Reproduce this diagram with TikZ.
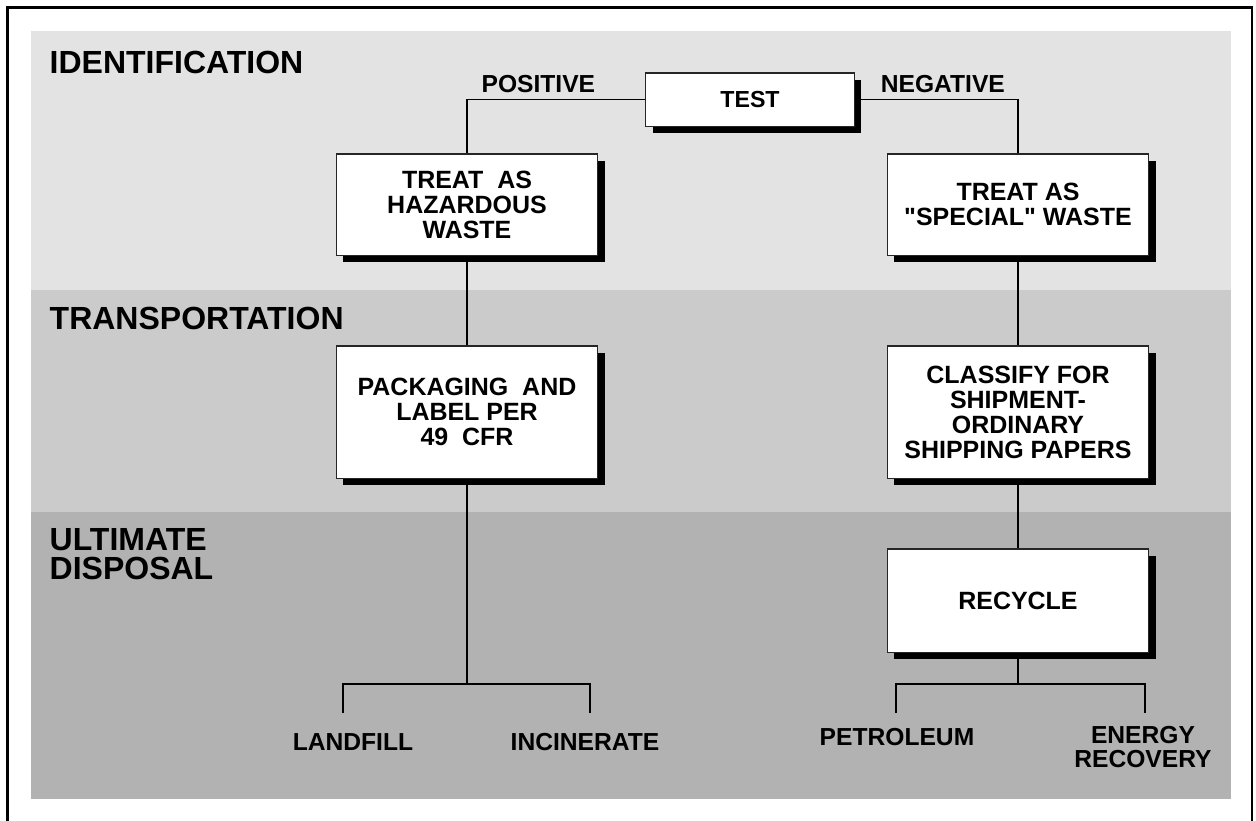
\documentclass[tikz,border=0pt]{standalone}
\usepackage{fontspec}
\setmainfont{Liberation Sans}[Ligatures=TeXOff]
\usetikzlibrary{positioning, shadows}

\definecolor{idgray}{HTML}{E3E3E3}
\definecolor{trgray}{HTML}{CBCBCB}
\definecolor{dsgray}{HTML}{B2B2B2}

\begin{document}
\begin{tikzpicture}[
  x=0.01cm, y=-0.01cm,
  every node/.style={font=\bfseries},
  box/.style={draw=black!85, line width=0.3pt, fill=white, minimum width=2.61cm,
    align=center, inner sep=0pt, font=\fontsize{7.1}{7.1}\selectfont\bfseries,
    drop shadow={shadow xshift=0.07cm, shadow yshift=-0.07cm, fill=black, opacity=1}},
  head/.style={anchor=west, inner sep=0pt, align=left, font=\fontsize{9.1}{8.4}\selectfont\bfseries},
  lbl/.style={inner sep=0pt, align=center, font=\fontsize{7}{7.1}\selectfont\bfseries},
  wire/.style={line width=0.55pt}
]
\useasboundingbox (0,0) rectangle (1256,820);

% Bands
\fill[idgray] (31,31) rectangle (1231,290);
\fill[trgray] (31,290) rectangle (1231,512);
\fill[dsgray] (31,512) rectangle (1231,799);

% Frame
\draw[line width=0.85pt] (7.5,822) -- (7.5,7.5) -- (1252,7.5) -- (1252,822);

% Band headings
\node[head] (hid) at (49,62) {IDENTIFICATION};
\node[head] (htr) at (49,318) {TRANSPORTATION};
\node[head] (hds) at (49,554) {ULTIMATE\\DISPOSAL};

% Boxes
\node[box, minimum width=2.08cm, minimum height=0.53cm, font=\fontsize{6.6}{6.6}\selectfont\bfseries] (test) at (750,99.5) {TEST};
\node[box, minimum height=1.01cm] (haz) at (467,204.5) {TREAT\ \ AS\\HAZARDOUS\\WASTE};
\node[box, minimum height=1.01cm] (spec) at (1018,204.5) {TREAT AS\\"SPECIAL" WASTE};
\node[box, minimum height=1.32cm] (pack) at (467,412) {PACKAGING\ \ AND\\LABEL PER\\49\ \ CFR};
\node[box, minimum height=1.32cm] (clas) at (1018,412) {CLASSIFY FOR\\SHIPMENT-\\ORDINARY\\SHIPPING PAPERS};
\node[box, minimum height=1.03cm] (recy) at (1018,600.5) {RECYCLE};

% Outcomes
\node[lbl] (landfill) at (353,742) {LANDFILL};
\node[lbl] (incin) at (585,742) {INCINERATE};
\node[lbl] (petro) at (897,737) {PETROLEUM};
\node[lbl] (energy) at (1143,747) {ENERGY\\RECOVERY};

% Test outcomes
\draw[wire] (test.west) -| node[lbl, pos=0.3, above=1.6pt] (pos) {POSITIVE} (haz.north);
\draw[wire] (test.east) -| node[lbl, pos=0.27, above=1.6pt] (neg) {NEGATIVE} (spec.north);

% Columns
\draw[wire] (haz) -- (pack);
\draw[wire] (spec) -- (clas);
\draw[wire] (clas) -- (recy);

% Split into disposal routes
\coordinate (lsplit) at (467,684);
\coordinate (lleg) at (343,713);
\coordinate (rleg) at (590,713);
\draw[wire] (pack.south) -- (lsplit);
\draw[wire] (lleg) |- (lsplit) -| (rleg);

\coordinate (rsplit) at (1018,684);
\coordinate (pleg) at (896,713);
\coordinate (eleg) at (1145,713);
\draw[wire] (recy.south) -- (rsplit);
\draw[wire] (pleg) |- (rsplit) -| (eleg);

\end{tikzpicture}
\end{document}
